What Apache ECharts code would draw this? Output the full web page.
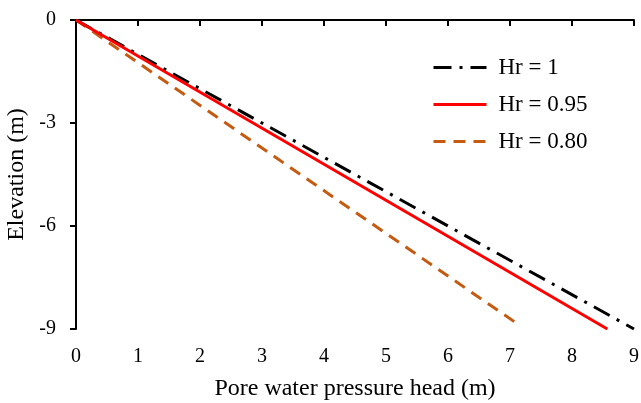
<!DOCTYPE html>
<html><head><meta charset="utf-8">
<script src="https://cdn.jsdelivr.net/npm/echarts@6/dist/echarts.min.js"></script>
<style>html,body{margin:0;padding:0;background:#fff}#c{width:641px;height:403px}</style>
</head><body><div id="c"></div>
<script>
const seriesNames = ['Hr = 1', 'Hr = 0.95', 'Hr = 0.80'];
const hr1 = [[0, 0], [9, -9]];
const hr095 = [[0, 0], [8.57, -9]];
const hr080 = [[0, 0], [7.08, -8.8]];
const xTicks = [0, 1, 2, 3, 4, 5, 6, 7, 8, 9];
const yTicks = [0, -3, -6, -9];

const font = 'Liberation Serif';
const chart = echarts.init(document.getElementById('c'));
chart.setOption({
  animation: false,
  grid: {left: 76, right: 7, top: 20, bottom: 74, outerBoundsMode: 'none', containLabel: false},
  legend: {
    orient: 'vertical', left: 432, top: 56, padding: 0, itemWidth: 53, itemHeight: 14, itemGap: 14,
    itemStyle: {opacity: 0},
    lineStyle: {width: 3},
    textStyle: {fontFamily: font, fontSize: 23, color: '#000', padding: [0, 0, 0, 7]},
    data: seriesNames
  },
  xAxis: {
    type: 'value', min: 0, max: 9, interval: 1,
    name: 'Pore water pressure head (m)', nameLocation: 'middle', nameGap: 48,
    nameTextStyle: {fontFamily: font, fontSize: 24, color: '#000'},
    axisLine: {lineStyle: {color: '#000', width: 2}},
    axisTick: {show: true, length: 6, lineStyle: {color: '#000', width: 2}},
    axisLabel: {fontFamily: font, fontSize: 20, color: '#000', margin: 18},
    splitLine: {show: false}
  },
  yAxis: {
    type: 'value', min: -9, max: 0, interval: 3,
    name: 'Elevation (m)', nameLocation: 'middle', nameGap: 46, nameRotate: 90,
    nameTextStyle: {fontFamily: font, fontSize: 24, color: '#000'},
    axisLine: {show: true, lineStyle: {color: '#000', width: 2}},
    axisTick: {show: true, length: 6, lineStyle: {color: '#000', width: 2}},
    axisLabel: {fontFamily: font, fontSize: 20, color: '#000', margin: 20},
    splitLine: {show: false}
  },
  series: [
    {name: seriesNames[0], type: 'line', data: hr1, symbol: 'none', z: 3,
     lineStyle: {color: '#000', width: 3, type: [18, 8, 3, 8]}, itemStyle: {color: '#000'}},
    {name: seriesNames[1], type: 'line', data: hr095, symbol: 'none', z: 4,
     lineStyle: {color: '#FF0000', width: 3}, itemStyle: {color: '#FF0000'}},
    {name: seriesNames[2], type: 'line', data: hr080, symbol: 'none', z: 2,
     lineStyle: {color: '#C55A11', width: 3, type: [12, 8]}, itemStyle: {color: '#C55A11'}}
  ]
});
</script></body></html>
